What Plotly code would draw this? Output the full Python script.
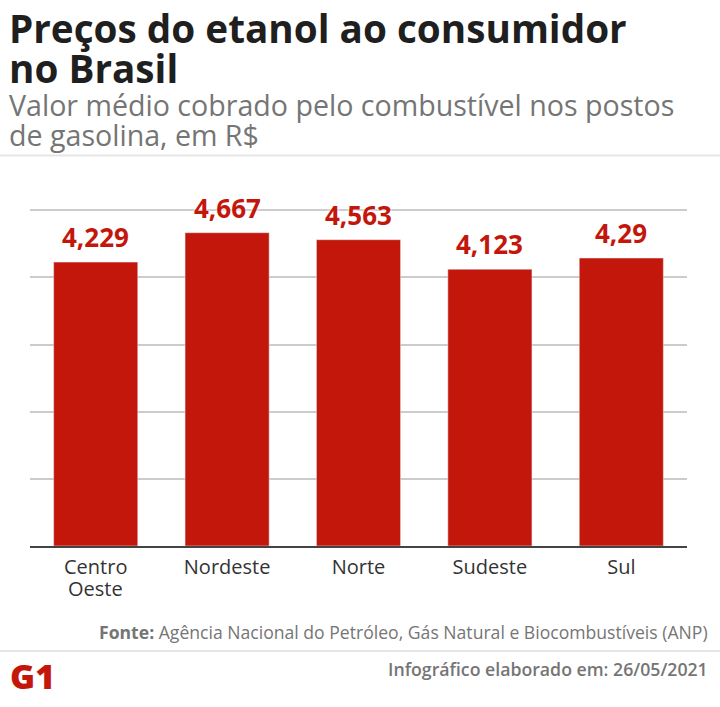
import plotly.graph_objects as go

regions = ["Centro Oeste", "Nordeste", "Norte", "Sudeste", "Sul"]
region_ticks = ["Centro", "Nordeste", "Norte", "Sudeste", "Sul"]
prices = [4.229, 4.667, 4.563, 4.123, 4.29]
price_labels = ["4,229", "4,667", "4,563", "4,123", "4,29"]
y_ticks = [0, 1, 2, 3, 4, 5]

FONT = "Open Sans"
WIDTH, HEIGHT = 720, 707
M_LEFT, M_RIGHT, M_TOP, M_BOTTOM = 30, 33, 207, 161
plot_w = WIDTH - M_LEFT - M_RIGHT
plot_h = HEIGHT - M_TOP - M_BOTTOM


def px(x):
    return (x - M_LEFT) / plot_w


def py(y):
    return (HEIGHT - M_BOTTOM - y) / plot_h


def label(text, x, y, size, color, anchor="left", weight=400):
    return dict(text=text, x=px(x), y=py(y), xref="paper", yref="paper",
                xanchor=anchor, yanchor="middle", showarrow=False,
                font=dict(family=FONT, size=size, color=color, weight=weight))


fig = go.Figure(go.Bar(
    x=regions, y=prices, width=0.64,
    marker_color="#c4170c", cliponaxis=False,
    hoverinfo="skip",
))

# value labels sit a bit higher above the bars than plotly's outside text
value_labels = [
    dict(x=r, y=p, text=t, xref="x", yref="y", yanchor="bottom", yshift=5,
         showarrow=False,
         font=dict(family=FONT, size=26, color="#c4170c", weight=700,
                   shadow="white 0 0 4px"))
    for r, p, t in zip(regions, prices, price_labels)
]

# second line of the first tick, plotly's <br> spacing is too wide here
second_line = dict(x=regions[0], y=py(588), xref="x", yref="paper", text="Oeste",
                   yanchor="middle", showarrow=False,
                   font=dict(family=FONT, size=20, color="#333333"))

fig.update_layout(
    width=WIDTH, height=HEIGHT, autosize=False,
    margin=dict(l=M_LEFT, r=M_RIGHT, t=M_TOP, b=M_BOTTOM),
    paper_bgcolor="white", plot_bgcolor="white",
    showlegend=False, bargap=0.36,
    font=dict(family=FONT),
    annotations=value_labels + [second_line] + [
        label("Preços do etanol ao consumidor", 7, 28, 38.7, "#1f1f1f", weight=700),
        label("no Brasil", 7, 68, 38.7, "#1f1f1f", weight=700),
        label("Valor médio cobrado pelo combustível nos postos", 7, 104, 28.6, "#757575"),
        label("de gasolina, em R$", 7, 134, 28.6, "#757575"),
        label("<b>Fonte:</b> Agência Nacional do Petróleo, Gás Natural e Biocombustíveis (ANP)",
              710, 632, 17.6, "#757575", "right"),
        label("Infográfico elaborado em: 26/05/2021", 710, 669, 17.7, "#757575", "right", 600),
        label("G1", 8, 676, 34, "#c4170c", weight=800),
    ],
    shapes=[
        dict(type="line", xref="paper", yref="paper", x0=px(0), x1=px(WIDTH),
             y0=py(155.5), y1=py(155.5), line=dict(color="#e6e6e6", width=2)),
        dict(type="line", xref="paper", yref="paper", x0=px(0), x1=px(WIDTH),
             y0=py(651), y1=py(651), line=dict(color="#e6e6e6", width=2)),
    ],
)
fig.update_xaxes(
    showgrid=False, ticks="outside", ticklen=2, tickcolor="rgba(0,0,0,0)",
    showline=True, linecolor="#444444", linewidth=2,
    tickmode="array", tickvals=regions, ticktext=region_ticks,
    tickfont=dict(family=FONT, size=20, color="#333333"),
    tickangle=0,
)
fig.update_yaxes(
    range=[0, 5.05], tickvals=y_ticks, showticklabels=False, ticks="",
    showgrid=True, gridcolor="#cccccc", gridwidth=1.5, zeroline=False,
)

# plotly leaves the browser's default 8px body margin, drop it so the chart fills the window
fig.write_html("out.html", config=dict(displayModeBar=False),
               post_script="document.body.style.margin='0';window.dispatchEvent(new Event('resize'));")
